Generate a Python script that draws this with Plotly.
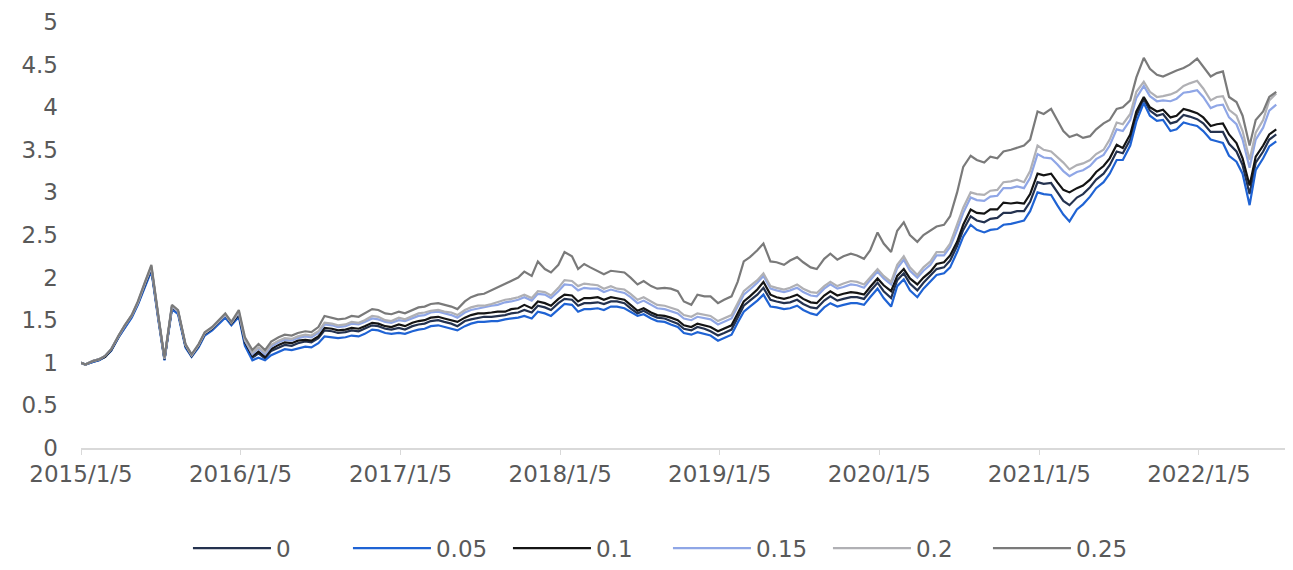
import pandas as pd
import plotly.graph_objects as go

# semi-monthly observation dates
dates = (["2015-01-05"]
         + [d.strftime("%Y-%m-%d") for d in pd.date_range("2015-01-15", "2022-06-15", freq="SMS")]
         + ["2022-07-01"])

s_000 = [
    1.00, 0.98, 1.01, 1.03, 1.07, 1.15, 1.30, 1.42, 1.54, 1.69, 1.92, 2.10, 1.52, 1.04, 1.65, 1.59, 1.20, 1.08, 1.20, 1.33, 1.39, 1.47, 1.55, 1.45,
    1.56, 1.22, 1.06, 1.11, 1.05, 1.14, 1.18, 1.21, 1.20, 1.23, 1.25, 1.24, 1.29, 1.38, 1.37, 1.35, 1.36, 1.38, 1.37, 1.40, 1.44, 1.43, 1.40, 1.39,
    1.41, 1.39, 1.43, 1.45, 1.46, 1.49, 1.50, 1.48, 1.46, 1.43, 1.49, 1.51, 1.53, 1.54, 1.54, 1.55, 1.56, 1.58, 1.59, 1.62, 1.59, 1.67, 1.65, 1.62,
    1.70, 1.75, 1.74, 1.67, 1.70, 1.70, 1.71, 1.69, 1.72, 1.72, 1.70, 1.64, 1.58, 1.61, 1.56, 1.53, 1.52, 1.49, 1.46, 1.40, 1.38, 1.42, 1.40, 1.37,
    1.32, 1.35, 1.39, 1.53, 1.67, 1.73, 1.80, 1.88, 1.74, 1.72, 1.70, 1.71, 1.74, 1.69, 1.65, 1.64, 1.73, 1.78, 1.73, 1.75, 1.77, 1.77, 1.75, 1.84,
    1.94, 1.84, 1.76, 1.97, 2.05, 1.93, 1.85, 1.94, 2.02, 2.10, 2.12, 2.20, 2.37, 2.56, 2.72, 2.67, 2.65, 2.69, 2.70, 2.76, 2.76, 2.78, 2.78, 2.89,
    3.12, 3.10, 3.11, 3.00, 2.90, 2.85, 2.94, 2.98, 3.06, 3.15, 3.22, 3.32, 3.48, 3.46, 3.62, 3.90, 4.09, 3.96, 3.90, 3.92, 3.81, 3.83, 3.91, 3.89,
    3.86, 3.81, 3.71, 3.71, 3.71, 3.57, 3.48, 3.32, 2.98, 3.35, 3.48, 3.62, 3.68,
]

s_005 = [
    1.00, 0.98, 1.01, 1.03, 1.07, 1.14, 1.30, 1.41, 1.53, 1.68, 1.91, 2.08, 1.50, 1.03, 1.63, 1.57, 1.18, 1.07, 1.18, 1.32, 1.38, 1.45, 1.53, 1.44,
    1.54, 1.20, 1.03, 1.06, 1.03, 1.09, 1.13, 1.16, 1.15, 1.17, 1.19, 1.18, 1.23, 1.31, 1.30, 1.29, 1.30, 1.32, 1.31, 1.34, 1.39, 1.38, 1.35, 1.34,
    1.35, 1.34, 1.37, 1.39, 1.40, 1.43, 1.44, 1.42, 1.40, 1.38, 1.43, 1.46, 1.48, 1.48, 1.49, 1.49, 1.51, 1.52, 1.53, 1.55, 1.52, 1.60, 1.58, 1.55,
    1.63, 1.69, 1.68, 1.60, 1.63, 1.63, 1.64, 1.62, 1.66, 1.66, 1.64, 1.60, 1.55, 1.57, 1.52, 1.49, 1.48, 1.45, 1.42, 1.35, 1.33, 1.36, 1.34, 1.32,
    1.26, 1.29, 1.33, 1.47, 1.60, 1.66, 1.73, 1.80, 1.66, 1.65, 1.63, 1.64, 1.67, 1.62, 1.58, 1.56, 1.65, 1.70, 1.66, 1.68, 1.70, 1.70, 1.68, 1.77,
    1.87, 1.76, 1.66, 1.90, 1.98, 1.85, 1.77, 1.87, 1.95, 2.03, 2.05, 2.12, 2.30, 2.48, 2.62, 2.56, 2.53, 2.56, 2.57, 2.62, 2.63, 2.65, 2.67, 2.78,
    3.00, 2.98, 2.97, 2.85, 2.74, 2.66, 2.80, 2.86, 2.95, 3.05, 3.12, 3.22, 3.38, 3.38, 3.55, 3.83, 4.05, 3.90, 3.84, 3.85, 3.72, 3.74, 3.82, 3.80,
    3.78, 3.72, 3.62, 3.60, 3.58, 3.43, 3.36, 3.22, 2.85, 3.26, 3.40, 3.54, 3.60,
]

s_010 = [
    1.00, 0.98, 1.02, 1.04, 1.07, 1.15, 1.31, 1.43, 1.55, 1.70, 1.93, 2.11, 1.53, 1.04, 1.65, 1.60, 1.20, 1.08, 1.20, 1.34, 1.40, 1.48, 1.56, 1.46,
    1.57, 1.24, 1.08, 1.13, 1.07, 1.16, 1.21, 1.24, 1.23, 1.26, 1.27, 1.26, 1.31, 1.41, 1.40, 1.38, 1.39, 1.41, 1.40, 1.43, 1.47, 1.46, 1.43, 1.42,
    1.45, 1.43, 1.47, 1.49, 1.50, 1.53, 1.54, 1.52, 1.50, 1.48, 1.53, 1.56, 1.58, 1.58, 1.59, 1.60, 1.60, 1.63, 1.64, 1.68, 1.64, 1.72, 1.70, 1.67,
    1.75, 1.80, 1.79, 1.72, 1.76, 1.76, 1.77, 1.74, 1.77, 1.76, 1.74, 1.68, 1.61, 1.64, 1.59, 1.56, 1.55, 1.53, 1.50, 1.44, 1.42, 1.46, 1.44, 1.42,
    1.37, 1.40, 1.44, 1.58, 1.72, 1.78, 1.86, 1.95, 1.80, 1.77, 1.75, 1.77, 1.80, 1.75, 1.71, 1.70, 1.79, 1.84, 1.79, 1.81, 1.83, 1.82, 1.80, 1.89,
    1.99, 1.91, 1.84, 2.02, 2.10, 1.99, 1.92, 2.00, 2.07, 2.16, 2.18, 2.26, 2.42, 2.62, 2.80, 2.76, 2.75, 2.80, 2.80, 2.88, 2.87, 2.88, 2.87, 2.98,
    3.22, 3.20, 3.22, 3.12, 3.03, 3.00, 3.05, 3.08, 3.15, 3.24, 3.31, 3.40, 3.56, 3.52, 3.68, 3.95, 4.12, 4.00, 3.95, 3.97, 3.88, 3.90, 3.98, 3.96,
    3.93, 3.88, 3.78, 3.80, 3.81, 3.68, 3.58, 3.40, 3.08, 3.42, 3.55, 3.68, 3.74,
]

s_015 = [
    1.00, 0.98, 1.02, 1.04, 1.08, 1.16, 1.31, 1.43, 1.55, 1.70, 1.94, 2.12, 1.53, 1.05, 1.66, 1.60, 1.21, 1.09, 1.21, 1.35, 1.41, 1.48, 1.56, 1.47,
    1.59, 1.26, 1.10, 1.17, 1.10, 1.19, 1.24, 1.27, 1.26, 1.29, 1.31, 1.30, 1.35, 1.45, 1.44, 1.42, 1.43, 1.46, 1.45, 1.48, 1.52, 1.51, 1.48, 1.47,
    1.50, 1.49, 1.52, 1.55, 1.56, 1.59, 1.60, 1.58, 1.56, 1.53, 1.59, 1.62, 1.64, 1.65, 1.67, 1.68, 1.71, 1.72, 1.74, 1.77, 1.73, 1.81, 1.80, 1.76,
    1.84, 1.92, 1.91, 1.85, 1.88, 1.87, 1.87, 1.83, 1.86, 1.84, 1.82, 1.77, 1.70, 1.73, 1.68, 1.64, 1.63, 1.61, 1.58, 1.52, 1.50, 1.54, 1.52, 1.51,
    1.45, 1.48, 1.52, 1.66, 1.80, 1.86, 1.94, 2.02, 1.87, 1.85, 1.83, 1.85, 1.88, 1.83, 1.79, 1.78, 1.87, 1.92, 1.87, 1.89, 1.92, 1.91, 1.88, 1.97,
    2.07, 1.99, 1.92, 2.11, 2.21, 2.08, 2.00, 2.08, 2.15, 2.26, 2.26, 2.36, 2.56, 2.76, 2.94, 2.91, 2.90, 2.95, 2.96, 3.05, 3.05, 3.07, 3.05, 3.17,
    3.45, 3.41, 3.40, 3.33, 3.25, 3.19, 3.24, 3.26, 3.31, 3.39, 3.44, 3.55, 3.74, 3.72, 3.85, 4.11, 4.25, 4.13, 4.07, 4.08, 4.07, 4.10, 4.17, 4.18,
    4.20, 4.12, 3.99, 4.02, 4.03, 3.88, 3.80, 3.62, 3.29, 3.62, 3.76, 3.96, 4.03,
]

s_020 = [
    1.00, 0.98, 1.02, 1.04, 1.08, 1.16, 1.32, 1.44, 1.56, 1.71, 1.95, 2.13, 1.54, 1.05, 1.67, 1.61, 1.21, 1.09, 1.21, 1.35, 1.41, 1.49, 1.57, 1.47,
    1.60, 1.27, 1.12, 1.18, 1.12, 1.21, 1.26, 1.29, 1.28, 1.31, 1.33, 1.32, 1.37, 1.47, 1.46, 1.44, 1.45, 1.48, 1.47, 1.50, 1.55, 1.54, 1.50, 1.49,
    1.53, 1.51, 1.55, 1.58, 1.59, 1.61, 1.62, 1.60, 1.59, 1.56, 1.62, 1.65, 1.67, 1.67, 1.69, 1.71, 1.74, 1.75, 1.77, 1.80, 1.76, 1.84, 1.83, 1.79,
    1.88, 1.97, 1.96, 1.90, 1.93, 1.92, 1.91, 1.87, 1.90, 1.87, 1.86, 1.81, 1.74, 1.77, 1.72, 1.68, 1.67, 1.65, 1.62, 1.56, 1.54, 1.58, 1.56, 1.55,
    1.49, 1.52, 1.56, 1.70, 1.84, 1.90, 1.97, 2.05, 1.90, 1.88, 1.86, 1.88, 1.92, 1.87, 1.83, 1.82, 1.90, 1.95, 1.90, 1.93, 1.96, 1.95, 1.92, 2.00,
    2.10, 2.02, 1.95, 2.15, 2.25, 2.12, 2.03, 2.12, 2.19, 2.30, 2.30, 2.40, 2.62, 2.82, 3.00, 2.98, 2.97, 3.02, 3.03, 3.12, 3.13, 3.15, 3.12, 3.25,
    3.55, 3.50, 3.48, 3.42, 3.35, 3.27, 3.32, 3.34, 3.38, 3.45, 3.50, 3.62, 3.82, 3.80, 3.92, 4.18, 4.30, 4.18, 4.12, 4.13, 4.15, 4.18, 4.25, 4.28,
    4.31, 4.22, 4.08, 4.12, 4.13, 3.97, 3.90, 3.72, 3.38, 3.70, 3.85, 4.08, 4.16,
]

s_025 = [
    1.00, 0.98, 1.02, 1.04, 1.08, 1.16, 1.32, 1.44, 1.56, 1.72, 1.96, 2.15, 1.55, 1.06, 1.68, 1.62, 1.22, 1.10, 1.22, 1.36, 1.42, 1.50, 1.58, 1.48,
    1.62, 1.30, 1.15, 1.22, 1.15, 1.25, 1.30, 1.33, 1.32, 1.35, 1.37, 1.36, 1.42, 1.55, 1.53, 1.51, 1.52, 1.55, 1.54, 1.58, 1.63, 1.62, 1.58, 1.57,
    1.60, 1.58, 1.62, 1.65, 1.66, 1.69, 1.70, 1.68, 1.66, 1.63, 1.72, 1.77, 1.80, 1.81, 1.85, 1.88, 1.92, 1.96, 2.00, 2.07, 2.02, 2.19, 2.10, 2.06,
    2.15, 2.30, 2.25, 2.10, 2.16, 2.12, 2.08, 2.04, 2.08, 2.07, 2.06, 2.00, 1.92, 1.96, 1.90, 1.87, 1.88, 1.87, 1.84, 1.72, 1.68, 1.80, 1.78, 1.78,
    1.70, 1.74, 1.78, 1.95, 2.19, 2.24, 2.32, 2.40, 2.19, 2.18, 2.15, 2.20, 2.24, 2.18, 2.12, 2.10, 2.22, 2.28, 2.21, 2.25, 2.28, 2.26, 2.22, 2.32,
    2.53, 2.40, 2.30, 2.55, 2.65, 2.50, 2.42, 2.50, 2.55, 2.60, 2.62, 2.72, 3.00, 3.30, 3.43, 3.38, 3.35, 3.42, 3.40, 3.48, 3.50, 3.52, 3.55, 3.62,
    3.95, 3.92, 3.98, 3.85, 3.72, 3.65, 3.68, 3.64, 3.66, 3.74, 3.81, 3.85, 3.98, 4.00, 4.08, 4.35, 4.58, 4.45, 4.38, 4.36, 4.40, 4.43, 4.46, 4.50,
    4.57, 4.48, 4.36, 4.40, 4.42, 4.12, 4.06, 3.90, 3.55, 3.85, 3.95, 4.12, 4.18,
]

series_names = ["0", "0.05", "0.1", "0.15", "0.2", "0.25"]
series_values = [s_000, s_005, s_010, s_015, s_020, s_025]
series_colors = ["#24324f", "#1f63d4", "#141414", "#8fa6e6", "#b0b0b4", "#7a7a7a"]

x_tick_vals = ["2015-01-05", "2016-01-05", "2017-01-05", "2018-01-05",
               "2019-01-05", "2020-01-05", "2021-01-05", "2022-01-05"]
x_tick_text = ["2015/1/5", "2016/1/5", "2017/1/5", "2018/1/5",
               "2019/1/5", "2020/1/5", "2021/1/5", "2022/1/5"]
y_tick_vals = [0, 0.5, 1, 1.5, 2, 2.5, 3, 3.5, 4, 4.5, 5]
y_tick_text = ["0", "0.5", "1", "1.5", "2", "2.5", "3", "3.5", "4", "4.5", "5"]

FONT = "DejaVu Sans"
TXT = "#595959"

fig = go.Figure()
for name, vals, col in zip(series_names, series_values, series_colors):
    fig.add_trace(go.Scatter(x=dates, y=vals, mode="lines", name=name,
                             line=dict(color=col, width=2.2)))

# the page body has an 8px margin, so the figure is sized/offset to compensate
fig.update_layout(
    width=1285, height=562, autosize=False,
    margin=dict(l=73, r=8, t=14, b=122, pad=0, autoexpand=False),
    paper_bgcolor="white", plot_bgcolor="white",
    font=dict(family=FONT, size=23, color=TXT),
    legend=dict(orientation="h", x=0.4875, xanchor="center", y=-0.235, yanchor="middle",
                font=dict(family=FONT, size=23, color=TXT), itemwidth=78,
                entrywidth=67, entrywidthmode="pixels",
                bgcolor="rgba(0,0,0,0)"),
    showlegend=True,
)
fig.update_xaxes(
    type="date", range=["2015-01-05", "2022-07-21"],
    tickvals=x_tick_vals, ticktext=x_tick_text,
    ticks="outside", ticklen=5, tickcolor="#d9d9d9",
    showline=True, linecolor="#d9d9d9", linewidth=1.5,
    showgrid=False, zeroline=False, automargin=False,
    ticklabeloverflow="allow",
    tickfont=dict(family=FONT, size=23, color=TXT),
)
fig.update_yaxes(
    range=[0, 5], tickvals=y_tick_vals, ticktext=y_tick_text,
    showgrid=False, zeroline=False, showline=False, ticks="",
    ticklabelstandoff=22, automargin=False,
    ticklabeloverflow="allow",
    tickfont=dict(family=FONT, size=23, color=TXT),
)

fig.write_html("out.html")
